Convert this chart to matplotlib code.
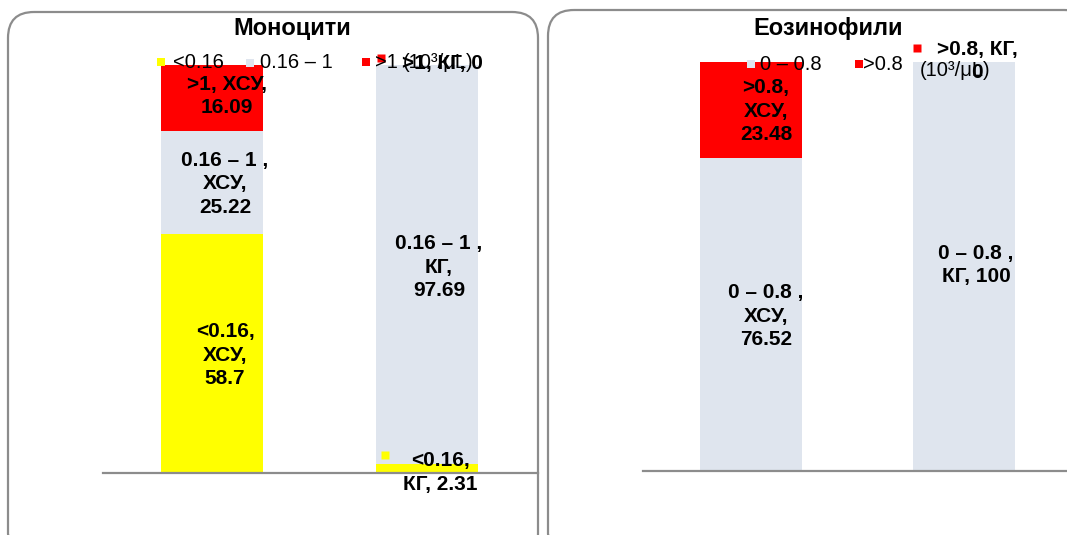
import matplotlib
matplotlib.use("Agg")
import matplotlib.pyplot as plt
from matplotlib.patches import FancyBboxPatch, Rectangle
from matplotlib.transforms import offset_copy

plt.rcParams['font.family'] = ['Liberation Sans', 'DejaVu Sans']

W, H = 1067, 535

# data
groups = ['ХСУ', 'КГ']
mono_names = ['<0.16', '0.16 – 1', '>1']
mono_low = [58.7, 2.31]
mono_mid = [25.22, 97.69]
mono_high = [16.09, 0]
eos_names = ['0 – 0.8', '>0.8']
eos_norm = [76.52, 100]
eos_high = [23.48, 0]
unit = '(10³/μL)'

YELLOW = '#ffff00'
GREY = '#dfe5ee'
RED = '#ff0000'
LINE = '#8c8c8c'
LBL = 15
LEG = 14.5


def px(x, y):
    return x / W, 1 - y / H


fig = plt.figure(figsize=(W / 100, H / 100), dpi=100)


def pixel_axes(z):
    a = fig.add_axes([0, 0, 1, 1], zorder=z)
    a.set_xlim(0, W)
    a.set_ylim(H, 0)
    a.axis('off')
    a.patch.set_alpha(0)
    return a


# rounded panel frames behind, titles and legends on top
bg = pixel_axes(-1)
fg = pixel_axes(10)
for x0, y0, x1, y1 in [(8, 12, 538, 560), (548, 10, 1090, 560)]:
    bg.add_patch(FancyBboxPatch((x0, y0), x1 - x0, y1 - y0,
                                boxstyle="round,pad=0,rounding_size=26",
                                fc='none', ec=LINE, lw=1.6))


def make_ax(x0, x1, ytop, ybase, xlim):
    l, b = px(x0, ybase)
    ax = fig.add_axes([l, b, (x1 - x0) / W, (ybase - ytop) / H])
    ax.set_facecolor('none')
    ax.set_xlim(*xlim)
    ax.set_ylim(0, 100)
    for s in ['top', 'right', 'left']:
        ax.spines[s].set_visible(False)
    ax.spines['bottom'].set_color(LINE)
    ax.spines['bottom'].set_linewidth(1.6)
    ax.set_xticks([])
    ax.set_yticks([])
    return ax


def label(ax, i, mid, text, color, tdx, tdy, sdx, sdy):
    tr = offset_copy(ax.transData, fig=fig, x=tdx, y=tdy, units='dots')
    ax.text(i, mid, text, transform=tr, ha='center', va='center',
            fontsize=LBL, fontweight='bold', linespacing=1.3, clip_on=False)
    tr2 = offset_copy(ax.transData, fig=fig, x=sdx, y=sdy, units='dots')
    ax.plot([i], [mid], marker='s', ms=6, color=color, mec='none',
            transform=tr2, clip_on=False)


def v(a):
    return f"{a:g}"


# ---- Моноцити ----
ax1 = make_ax(103, 538, 65, 473, (-0.507, 1.516))
x = [0, 1]
w = 0.474
b2 = [mono_low[i] for i in x]
b3 = [mono_low[i] + mono_mid[i] for i in x]
ax1.bar(x, mono_low, w, color=YELLOW)
ax1.bar(x, mono_mid, w, bottom=b2, color=GREY)
ax1.bar(x, mono_high, w, bottom=b3, color=RED)

label(ax1, 0, b3[0] + mono_high[0] / 2, f"{mono_names[2]}, {groups[0]},\n{v(mono_high[0])}",
      RED, 15, 2, -45, 15)
label(ax1, 0, b2[0] + mono_mid[0] / 2, f"{mono_names[1]} ,\n{groups[0]},\n{v(mono_mid[0])}",
      GREY, 13, -1.5, -47, 28)
label(ax1, 0, mono_low[0] / 2, f"{mono_names[0]},\n{groups[0]},\n{v(mono_low[0])}",
      YELLOW, 13, -2, -47, 26)
label(ax1, 1, b2[1] + mono_mid[1] / 2, f"{mono_names[1]} ,\n{groups[1]},\n{v(mono_mid[1])}",
      GREY, 12, -3, -47, 27)
label(ax1, 1, mono_low[1] / 2, f"{mono_names[0]},\n{groups[1]}, {v(mono_low[1])}",
      YELLOW, 13, -4, -42, 13)
label(ax1, 1, b3[1] + mono_high[1] / 2, f"{mono_names[2]}, {groups[1]}, {v(mono_high[1])}",
      RED, 15, 2, -46, 7)

# ---- Еозинофили ----
ax2 = make_ax(643, 1067, 62, 471, (-0.507, 1.484))
w2 = 0.479
ax2.bar(x, eos_norm, w2, color=GREY)
ax2.bar(x, eos_high, w2, bottom=eos_norm, color=RED)

label(ax2, 0, eos_norm[0] + eos_high[0] / 2, f"{eos_names[1]},\n{groups[0]},\n{v(eos_high[0])}",
      RED, 15, -1, -28, 25)
label(ax2, 0, eos_norm[0] / 2, f"{eos_names[0]} ,\n{groups[0]},\n{v(eos_norm[0])}",
      GREY, 15, -1.5, -40, 25)
label(ax2, 1, eos_norm[1] / 2, f"{eos_names[0]} ,\n{groups[1]}, {v(eos_norm[1])}",
      GREY, 12, 1.5, -42, 16)
label(ax2, 1, eos_norm[1] + eos_high[1] / 2, f"{eos_names[1]}, {groups[1]},\n{v(eos_high[1])}",
      RED, 13, 1, -47, 14)

# titles
fg.text(292, 29, 'Моноцити', ha='center', va='center', fontsize=17, fontweight='bold')
fg.text(828, 28, 'Еозинофили', ha='center', va='center', fontsize=17, fontweight='bold')


# legends placed by hand, as in the original layout
def key(xk, yk, color, text, xt):
    fg.add_patch(Rectangle((xk, yk - 4), 8, 8, fc=color, ec='none'))
    fg.text(xt, yk, text, ha='left', va='center', fontsize=LEG)


key(157, 62, YELLOW, mono_names[0], 173)
key(246, 63, GREY, mono_names[1], 260)
key(362, 62, RED, mono_names[2], 375)
fg.text(403, 63, unit, ha='left', va='center', fontsize=LEG)

key(747, 64, GREY, eos_names[0], 760)
key(855, 64, RED, eos_names[1], 863)
fg.text(920, 70, unit, ha='left', va='center', fontsize=LEG)

fig.savefig('out.png', dpi=100)
